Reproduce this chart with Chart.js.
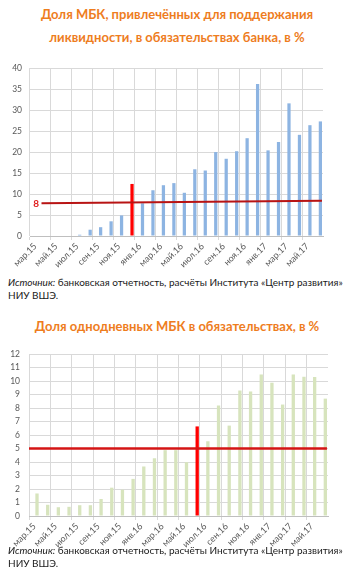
<!DOCTYPE html>
<html><head><meta charset="utf-8">
<script src="https://cdn.jsdelivr.net/npm/chart.js@4"></script>
<style>
html,body{margin:0;padding:0;background:#fff;width:354px;height:584px;overflow:hidden;font-family:Lato,"Open Sans",sans-serif;}
.title{position:absolute;left:0;width:354px;text-align:center;color:#EE7D1E;font-weight:bold;font-size:13px;line-height:23px;}
.src{position:absolute;left:8px;width:346px;color:#1a1a1a;font-size:9.5px;line-height:13px;white-space:nowrap;}
.box{position:absolute;left:0;width:354px;}
</style></head><body>
<div class="title" style="top:3px">Доля МБК, привлечённых для поддержания<br>ликвидности, в обязательствах банка, в %</div>
<div class="box" style="top:55px;height:215px"><canvas id="c1"></canvas></div>
<div class="src" style="top:276px"><span class="l1"><i>Источник:</i> банковская отчетность, расчёты Института «Центр развития»</span><br>НИУ ВШЭ.</div>
<div class="title" style="top:315px">Доля однодневных МБК в обязательствах, в %</div>
<div class="box" style="top:340px;height:210px"><canvas id="c2"></canvas></div>
<div class="src" style="top:544px"><span class="l1"><i>Источник:</i> банковская отчетность, расчёты Института «Центр развития»</span><br>НИУ ВШЭ.</div>
<script>
// ---- data ----
const months = ['мар.15','апр.15','май.15','июн.15','июл.15','авг.15','сен.15','окт.15','ноя.15','дек.15',
  'янв.16','фев.16','мар.16','апр.16','май.16','июн.16','июл.16','авг.16','сен.16','окт.16','ноя.16','дек.16',
  'янв.17','фев.17','мар.17','апр.17','май.17','июн.17'];
const liquidityShare = [0,0,0,0,0.3,1.5,2.1,3.5,4.9,12.4,7.8,10.9,12.1,12.6,10.3,15.9,15.6,20.0,18.4,20.2,23.3,36.2,20.4,22.4,31.6,24.1,26.4,27.3];
const overnightShare = [1.67,0.83,0.65,0.68,0.8,0.8,1.26,2.1,1.95,2.75,3.67,4.28,4.88,4.88,3.99,6.64,5.54,8.19,6.7,9.3,9.23,10.49,9.88,8.26,10.49,10.32,10.3,8.7];
const highlight1 = 'дек.15';
const highlight2 = 'июн.16';
const refLine1 = [{x:1.1,y:7.8},{x:27.9,y:8.4}];
const refLabel1 = '8';
const refLine2 = [{x:0,y:5},{x:27.9,y:5}];
const yTicks1 = {min:0,max:40,step:5};
const yTicks2 = {min:0,max:12,step:1};

// fit source lines to the reference width
document.querySelectorAll('.l1').forEach(el => {
  const w = el.getBoundingClientRect().width;
  const fs = 9.5 * 335 / w;
  el.parentNode.style.fontSize = fs.toFixed(2) + 'px';
});

// ---- styles ----
const X_FONT = {family:'Lato', size:9};
const Y_FONT = {family:'Lato', size:8.5};
const TICK_COLOR = '#595959';
const GRID = '#d9d9d9';

const refLabelPlugin = {
  id:'refLabel',
  afterDatasetsDraw(chart, args, opts){
    if(!opts.text) return;
    const ds = chart.data.datasets[opts.datasetIndex];
    const p = ds.data[0];
    const x = chart.scales.x2.getPixelForValue(p.x);
    const y = chart.scales.y.getPixelForValue(p.y);
    const c = chart.ctx;
    c.save();
    c.font = 'bold 10px Lato';
    c.fillStyle = '#E02020';
    c.textAlign = 'right';
    c.textBaseline = 'middle';
    c.fillText(opts.text, x - 2.5, y + 0.5);
    c.restore();
  }
};

function makeChart(id, values, barColor, hl, line, lineColor, yt, lpad, rpad, tpad, yw, xh, lineW, label){
  const colors = months.map(m => m === hl ? '#FF0000' : barColor);
  return new Chart(document.getElementById(id), {
    data:{
      labels: months,
      datasets:[
        {type:'line', data: line, xAxisID:'x2', borderColor: lineColor, borderWidth: lineW, pointRadius:0, order:0},
        {type:'bar', data: values, backgroundColor: colors, barPercentage:0.62, categoryPercentage:1, order:1}
      ]
    },
    options:{
      responsive:true, maintainAspectRatio:false, animation:false,
      layout:{padding:{left:0,right:rpad,top:tpad,bottom:0}},
      plugins:{legend:{display:false}, tooltip:{enabled:false}, refLabel:{text:label, datasetIndex:0}},
      scales:{
        x:{
          type:'category', offset:true,
          grid:{offset:true, color: c => (c.index % 2 === 0 ? GRID : 'rgba(0,0,0,0)'), tickLength:4, lineWidth:1},
          border:{display:true, color:'#bfbfbf'},
          ticks:{autoSkip:false, minRotation:45, maxRotation:45, font:X_FONT, color:TICK_COLOR, padding:1,
            callback:(v,i)=> i % 2 === 0 ? months[i] : ''},
          afterFit: s => { s.height = xh; }
        },
        x2:{type:'linear', min:0, max:28, display:false},
        y:{
          min:yt.min, max:yt.max,
          ticks:{stepSize:yt.step, font:Y_FONT, color:TICK_COLOR, padding:lpad},
          grid:{color:GRID, drawTicks:false, lineWidth:1},
          border:{display:false},
          afterFit: s => { s.width = yw; }
        }
      }
    },
    plugins:[refLabelPlugin]
  });
}

makeChart('c1', liquidityShare, '#8DB4E2', highlight1, refLine1, '#B81414', yTicks1, 8, 31, 7, 30, 34, 2, refLabel1);
makeChart('c2', overnightShare, '#D7E4BD', highlight2, refLine2, '#D41414', yTicks2, 9, 26, 10, 29, 34, 2.5, null);
</script>
</body></html>
